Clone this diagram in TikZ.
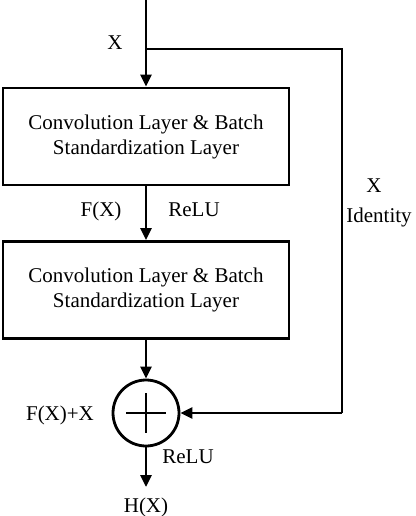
\documentclass[tikz,border=0pt]{standalone}
\usepackage{fontspec}
\setmainfont{Liberation Serif}
\usetikzlibrary{arrows.meta}
\begin{document}
\begin{tikzpicture}[x=1pt,y=-1pt,
  line width=2.8pt,
  every node/.style={font=\fontsize{21}{25}\selectfont, inner sep=0pt},
  layerbox/.style={draw, line width=2.8pt, minimum width=286pt, minimum height=97pt, align=center},
  sumnode/.style={draw, circle, line width=2.8pt, minimum size=66pt},
  flow/.style={-{Triangle[width=11pt,length=12pt]}, line width=2.8pt},
  lbl/.style={anchor=base}]
\useasboundingbox (0,0) rectangle (415,516);
\coordinate (top) at (146,0);
\coordinate (split) at (146,49);
\coordinate (c1) at (342,49);
\coordinate (c2) at (342,413);
\coordinate (out) at (146,487);
\node[layerbox] (b1) at (146,136.5) {Convolution Layer \& Batch\\Standardization Layer};
\node[layerbox] (b2) at (146,290) {Convolution Layer \& Batch\\Standardization Layer};
\node[sumnode] (sum) at (146,413) {};
\draw[line width=2.3pt] (126,413) -- (166,413) (146,393) -- (146,433);
\draw[flow] (top) -- (b1.north);
\draw (split) -- (c1) -- (c2);
\draw[flow] (c2) -- (sum.east);
\draw[flow] (b1.south) -- (b2.north);
\draw[flow] (b2.south) -- (sum.north);
\draw[flow] (sum.south) -- (out);
\node[lbl] (lx) at (115,50) {X};
\node[lbl] (lfx) at (101,216) {F(X)};
\node[lbl] (lrelu1) at (194,216) {ReLU};
\node[lbl] (lxr) at (374,192) {X};
\node[lbl] (lid) at (379,222) {Identity};
\node[lbl] (lsum) at (60,420) {F(X)+X};
\node[lbl] (lrelu2) at (188,463) {ReLU};
\node[lbl] (lhx) at (146,512) {H(X)};
\end{tikzpicture}
\end{document}
